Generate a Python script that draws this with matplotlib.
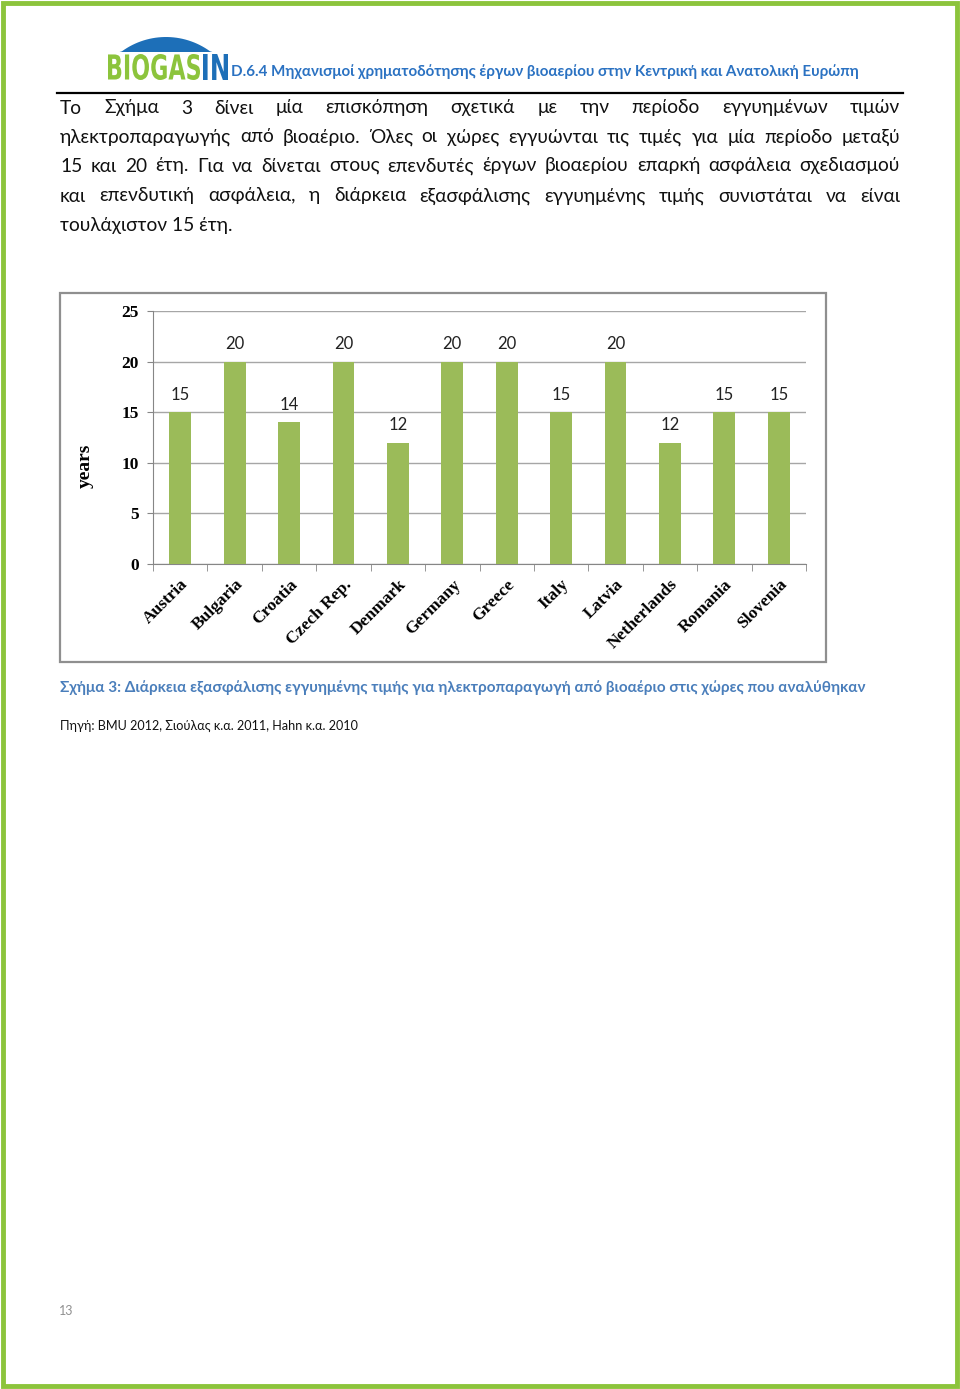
import matplotlib
matplotlib.use('Agg')
import matplotlib.pyplot as plt
import numpy as np
from matplotlib.patches import Rectangle, Polygon, PathPatch
from matplotlib.textpath import TextPath
from matplotlib.font_manager import FontProperties
from matplotlib.transforms import Affine2D

# chart data
countries = ['Austria', 'Bulgaria', 'Croatia', 'Czech Rep.', 'Denmark', 'Germany',
             'Greece', 'Italy', 'Latvia', 'Netherlands', 'Romania', 'Slovenia']
years = [15, 20, 14, 20, 12, 20, 20, 15, 20, 12, 15, 15]
yticks = [0, 5, 10, 15, 20, 25]

# page text
header = 'D.6.4 Μηχανισμοί χρηματοδότησης έργων βιοαερίου στην Κεντρική και Ανατολική Ευρώπη'
body = ['Το Σχήμα 3 δίνει μία επισκόπηση σχετικά με την περίοδο εγγυημένων τιμών',
        'ηλεκτροπαραγωγής από βιοαέριο.  Όλες οι χώρες εγγυώνται τις τιμές για μία περίοδο μεταξύ',
        '15 και 20 έτη. Για να δίνεται στους επενδυτές έργων βιοαερίου επαρκή ασφάλεια σχεδιασμού',
        'και επενδυτική ασφάλεια, η διάρκεια εξασφάλισης εγγυημένης τιμής συνιστάται να είναι',
        'τουλάχιστον 15 έτη.']
caption = 'Σχήμα 3: Διάρκεια εξασφάλισης εγγυημένης τιμής για ηλεκτροπαραγωγή από βιοαέριο στις χώρες που αναλύθηκαν'
source = 'Πηγή: BMU 2012, Σιούλας κ.α. 2011, Hahn κ.α. 2010'

W, H = 960, 1389
fig = plt.figure(figsize=(W / 100, H / 100), dpi=100)
fig.patch.set_facecolor('white')
r = fig.canvas.get_renderer()

# overlay axes in pixel coords
ov = fig.add_axes([0, 0, 1, 1])
ov.set_xlim(0, W)
ov.set_ylim(H, 0)
ov.axis('off')


def fit(x, y, s, width, **kw):
    t = ov.text(x, y, s, fontsize=10, **kw)
    w = t.get_window_extent(renderer=r).width
    t.set_fontsize(10 * width / w)
    return t


def justify(y, line, x0, x1, fs, **kw):
    words = line.split()
    ts = [ov.text(0, y, w, fontsize=fs, va='center', **kw) for w in words]
    ws = [t.get_window_extent(renderer=r).width for t in ts]
    gap = (x1 - x0 - sum(ws)) / max(len(words) - 1, 1)
    x = x0
    for t, w in zip(ts, ws):
        t.set_x(x)
        x += w + gap


def boxtext(s, x0, x1, ytop, ybot, color):
    # text stretched into a box (condensed logo lettering)
    p = TextPath((0, 0), s, size=20, prop=FontProperties(family='DejaVu Sans', weight='bold'))
    e = p.get_extents()
    tr = Affine2D().translate(-e.x0, -e.y0).scale((x1 - x0) / e.width, -(ybot - ytop) / e.height)
    tr = tr.translate(x0, ybot)
    ov.add_patch(PathPatch(p, transform=tr + ov.transData, fc=color, ec='none'))


# page border
ov.add_patch(Rectangle((3, 3), W - 6, H - 6, fill=False, ec='#8cc43c', lw=3.5))

# logo
th = np.linspace(0.12 * np.pi, 0.88 * np.pi, 60)
R = 75
cx, cy = 166, 37 + R
dome = np.column_stack([cx + R * np.cos(th), cy - R * np.sin(th)])
dome[:, 1] = np.minimum(dome[:, 1], 52)
ov.add_patch(Polygon(dome, closed=True, fc='#1d6fb8', ec='none'))
boxtext('BIOGAS', 108, 200, 54, 80, '#8cc43c')
boxtext('IN', 203, 228, 54, 80, '#1d6fb8')
fit(231, 72, header, 630, family='Lato', weight='bold', color='#2b72c2', va='center')
ov.plot([57, 903], [93, 93], color='black', lw=1.6)

# body paragraph
tmp = ov.text(0, 0, body[-1], fontsize=10, family='Lato')
fs = 10 * 173 / tmp.get_window_extent(renderer=r).width
tmp.remove()
ys = [108, 137, 166, 196, 225]
for line, y in zip(body[:-1], ys[:-1]):
    justify(y, line, 60, 900, fs, family='Lato', color='#111111')
ov.text(60, ys[-1], body[-1], fontsize=fs, family='Lato', va='center', color='#111111')

# chart frame
ov.add_patch(Rectangle((60, 293), 766, 369, fill=False, ec='#8f8f8f', lw=1.6))

# caption, source, page number
fit(60, 688, caption, 800, family='Lato', weight='bold', color='#4a7ebb', va='center')
fit(60, 726, source, 298, family='Lato', color='#111111', va='center')
ov.text(59, 1311, '13', fontsize=9, family='Lato', color='#909090', va='center')

# bar chart
ax = fig.add_axes([153 / W, 1 - 564 / H, 653 / W, 253 / H])
ax.set_facecolor('none')
x = np.arange(len(countries))
bars = ax.bar(x, years, width=0.4, color='#9bbb59', zorder=3)
for xi, v in zip(x, years):
    ax.text(xi, v + 0.9, str(v), ha='center', va='bottom', fontsize=12,
            family='Lato', color='#222222')
ax.set_xlim(-0.5, len(countries) - 0.5)
ax.set_ylim(0, 25)
ax.set_yticks(yticks)
ax.yaxis.grid(True, color='#a6a6a6', lw=1, zorder=0)
for s in ['top', 'right']:
    ax.spines[s].set_visible(False)
for s in ['left', 'bottom']:
    ax.spines[s].set_color('#868686')
ax.tick_params(axis='y', length=4, color='#868686', pad=6)
ax.set_xticks(x)
ax.set_xticklabels(countries, rotation=45, ha='right', rotation_mode='anchor')
ax.set_xticks(np.arange(-0.5, len(countries)), minor=True)
ax.tick_params(axis='x', which='major', length=0, pad=9)
ax.tick_params(axis='x', which='minor', length=5, color='#868686')
for lab in ax.get_xticklabels() + ax.get_yticklabels():
    lab.set_family('Liberation Serif')
    lab.set_weight('bold')
    lab.set_fontsize(12.5)
ax.set_ylabel('years', family='Liberation Serif', weight='bold', fontsize=14)
ax.yaxis.set_label_coords(-0.09, 0.39)

fig.savefig('out.png', dpi=100, facecolor='white')
